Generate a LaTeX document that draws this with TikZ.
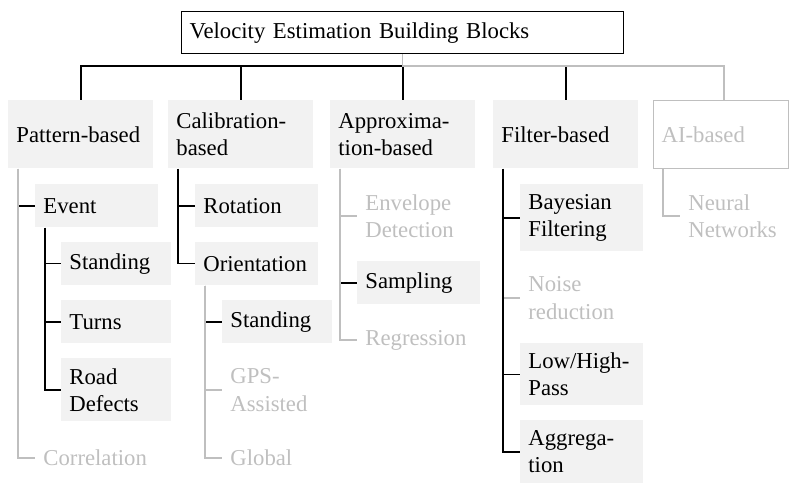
\documentclass[tikz,border=0pt]{standalone}
\usepackage{fontspec}
\setmainfont{Liberation Serif}
\usetikzlibrary{calc}

\definecolor{boxfill}{HTML}{F2F2F2}
\definecolor{dim}{HTML}{BFBFBF}

\begin{document}
\begin{tikzpicture}[x=0.44pt, y=-0.44pt,
  base/.style={anchor=north west, inner xsep=3.5pt, inner ysep=0pt, align=left, font=\normalsize},
  topbox/.style={base, draw, line width=0.6pt, minimum width=194.5pt, text width=187.5pt, minimum height=18.48pt},
  catbox/.style={base, fill=boxfill, minimum width=63.8pt, text width=56.8pt, minimum height=29.92pt},
  catdim/.style={base, draw=dim, line width=0.6pt, text=dim, minimum width=59.6pt, text width=52.6pt, minimum height=29.92pt},
  subbox/.style={base, fill=boxfill, minimum width=54.1pt, text width=47.1pt},
  subdim/.style={base, text=dim, minimum width=54.1pt, text width=47.1pt},
  leafbox/.style={base, fill=boxfill, minimum width=48pt, text width=41pt},
  leafdim/.style={base, text=dim, minimum width=48pt, text width=41pt},
  oneline/.style={minimum height=18.92pt},
  twoline/.style={minimum height=27.72pt},
  conn/.style={line width=0.6pt, draw=black},
  dimconn/.style={line width=0.6pt, draw=dim}
]
\useasboundingbox (0,0) rectangle (789,493);

% root
\node[topbox] (root) at (181,11) {Velocity Estimation Building Blocks};

% first level
\node[catbox] (pat) at (8,100) {Pattern-based};
\node[catbox] (cal) at (168,100) {Calibration-\\based};
\node[catbox] (app) at (330,100) {Approxima-\\tion-based};
\node[catbox] (fil) at (493,100) {Filter-based};
\node[catdim] (ai) at (653,100) {AI-based};

% pattern-based branch
\node[subbox, oneline] (event) at (35,184) {Event};
\node[leafbox, oneline] (stand1) at (61,241.7) {Standing};
\node[leafbox, oneline] (turns) at (61,300) {Turns};
\node[leafbox, twoline] (road) at (61,358) {Road\\Defects};
\node[subdim, oneline] (corr) at (35,436) {Correlation};

% calibration-based branch
\node[subbox, oneline] (rot) at (195,184) {Rotation};
\node[subbox, oneline] (orient) at (195,241.7) {Orientation};
\node[leafbox, oneline] (stand2) at (222,300) {Standing};
\node[leafdim, twoline] (gps) at (222,358) {GPS-\\Assisted};
\node[leafdim, oneline] (glob) at (222,436) {Global};

% approximation-based branch
\node[subdim, twoline] (env) at (357,184) {Envelope\\Detection};
\node[subbox, oneline] (samp) at (357,261) {Sampling};
\node[subdim, oneline] (regr) at (357,318) {Regression};

% filter-based branch
\node[subbox, minimum height=29.48pt] (bayes) at (520,184) {Bayesian\\Filtering};
\node[subdim, twoline] (noise) at (520,266) {Noise\\reduction};
\node[subbox, minimum height=27.28pt] (lowhigh) at (520,343) {Low/High-\\Pass};
\node[subbox, twoline] (aggr) at (520,420) {Aggrega-\\tion};

% AI-based branch
\node[subdim, twoline] (neural) at (680,184) {Neural\\Networks};

% connectors from the root
\coordinate (bus) at (0,66);
\coordinate (aitop) at ($(ai.north west)+(71,0)$);
\draw[conn] (root.south) |- (bus -| pat.north) -- (pat.north);
\draw[conn] (root.south) |- (bus -| cal.north) -- (cal.north);
\draw[conn] (root.south) |- (bus -| app.north) -- (app.north);
\draw[conn] (root.south) |- (bus -| fil.north) -- (fil.north);
\draw[dimconn] (root.south) |- (bus -| aitop) -- (aitop);

% connectors inside the branches
\draw[conn] ($(pat.south west)+(10,0)$) |- (event.west);
\draw[dimconn] ($(pat.south west)+(10,0)$) |- (corr.west);
\draw[conn] ($(event.south west)+(10,0)$) |- (stand1.west);
\draw[conn] ($(event.south west)+(10,0)$) |- (turns.west);
\draw[conn] ($(event.south west)+(10,0)$) |- (road.west);

\draw[conn] ($(cal.south west)+(10,0)$) |- (rot.west);
\draw[conn] ($(cal.south west)+(10,0)$) |- (orient.west);
\draw[conn] ($(orient.south west)+(10,0)$) |- (stand2.west);
\draw[dimconn] ($(orient.south west)+(10,0)$) |- (gps.west);
\draw[dimconn] ($(orient.south west)+(10,0)$) |- (glob.west);

\draw[dimconn] ($(app.south west)+(10,0)$) |- (env.west);
\draw[conn] ($(app.south west)+(10,0)$) |- (samp.west);
\draw[dimconn] ($(app.south west)+(10,0)$) |- (regr.west);

\draw[conn] ($(fil.south west)+(10,0)$) |- (bayes.west);
\draw[dimconn] ($(fil.south west)+(10,0)$) |- (noise.west);
\draw[conn] ($(fil.south west)+(10,0)$) |- (lowhigh.west);
\draw[conn] ($(fil.south west)+(10,0)$) |- (aggr.west);

\draw[dimconn] ($(ai.south west)+(10,0)$) |- (neural.west);
\end{tikzpicture}
\end{document}
